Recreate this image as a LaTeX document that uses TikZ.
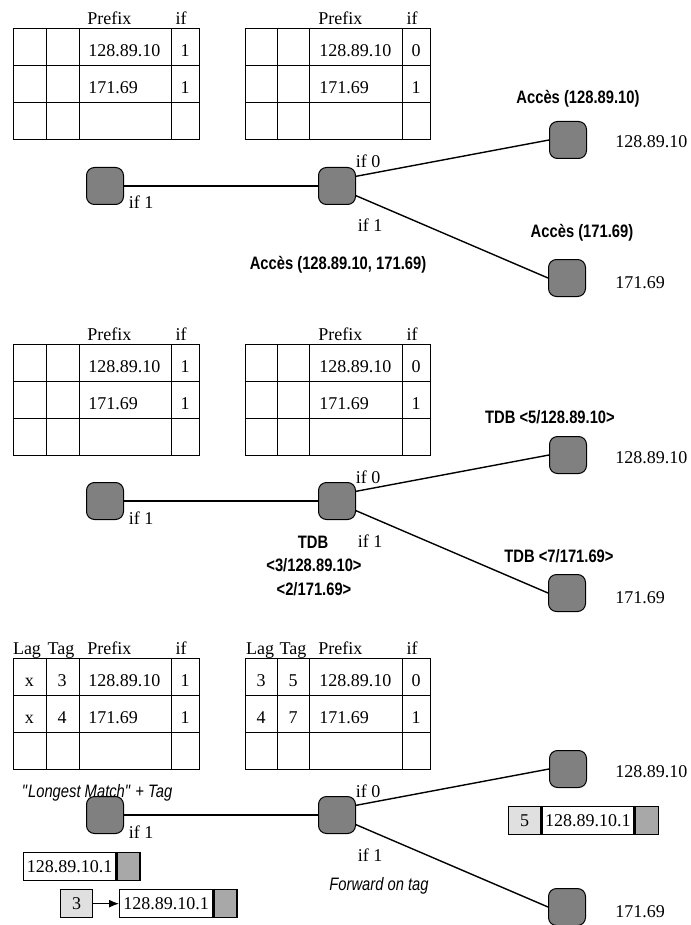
\documentclass[tikz,border=0pt]{standalone}
\usepackage{fontspec}
\setmainfont{Liberation Serif}
\setsansfont{Liberation Sans}
\newfontfamily\narrowsf[FakeStretch=0.82]{Liberation Sans}
\usepackage{tikz}
\usetikzlibrary{arrows.meta, positioning, calc}
\definecolor{routergray}{gray}{0.5}
\definecolor{pktgray}{gray}{0.66}
\definecolor{taggray}{gray}{0.88}

\begin{document}
\begin{tikzpicture}[x=0.5pt, y=-0.5pt,
		router/.style={draw, fill=routergray, rounded corners=4pt, minimum size=18.5pt, inner sep=0pt, line width=0.5pt},
		tbl/.style={line width=0.5pt},
		cell/.style={font=\fontsize{9}{10}\selectfont, inner sep=0pt, anchor=base},
		link/.style={line width=0.7pt},
		lbl/.style={font=\narrowsf\bfseries\fontsize{9}{10}\selectfont, inner sep=0pt},
		note/.style={font=\narrowsf\itshape\fontsize{9}{10}\selectfont, inner sep=0pt},
		pkt/.style={draw, fill=white, line width=0.65pt, minimum height=14pt, inner sep=0pt, font=\fontsize{9}{10}\selectfont},
		pktend/.style={draw, fill=pktgray, line width=0.65pt, minimum height=14pt, minimum width=11.5pt, inner sep=0pt},
		tagbox/.style={draw, fill=taggray, line width=0.65pt, minimum height=14pt, minimum width=16pt, inner sep=0pt, font=\fontsize{9}{10}\selectfont}]
	\useasboundingbox (0,0) rectangle (690,925);
	% the three steps share the same tables, routers and links
	\foreach \p/\dy in {1/0, 2/315, 3/629} {
		\begin{scope}[shift={(0,\dy)}]
			\draw[tbl] (13,29) rectangle (199,140);
			\draw[tbl] (13,66) -- (199,66) (13,103) -- (199,103);
			\draw[tbl] (46,29) -- (46,140) (79,29) -- (79,140) (171,29) -- (171,140);
			\draw[tbl] (245,29) rectangle (430,140);
			\draw[tbl] (245,66) -- (430,66) (245,103) -- (430,103);
			\draw[tbl] (277,29) -- (277,140) (309,29) -- (309,140) (402,29) -- (402,140);
			\node[cell, anchor=base west] (hpfxL\p) at (87,25) {Prefix};
			\node[cell] (hifL\p) at (181,25) {if};
			\node[cell, anchor=base west] (hpfxR\p) at (318,25) {Prefix};
			\node[cell] (hifR\p) at (412,25) {if};
			\node[cell, anchor=base west] (pfxLa\p) at (88,57) {128.89.10};
			\node[cell] (ifLa\p) at (185,57) {1};
			\node[cell, anchor=base west] (pfxLb\p) at (88,94) {171.69};
			\node[cell] (ifLb\p) at (185,94) {1};
			\node[cell, anchor=base west] (pfxRa\p) at (319,57) {128.89.10};
			\node[cell] (ifRa\p) at (416,57) {0};
			\node[cell, anchor=base west] (pfxRb\p) at (319,94) {171.69};
			\node[cell] (ifRb\p) at (416,94) {1};
			\node[router] (src\p) at (105,186) {};
			\node[router] (core\p) at (337,186) {};
			\node[router] (top\p) at (568,140) {};
			\node[router] (bot\p) at (567,278) {};
			\draw[link] (src\p) -- (core\p);
			\draw[link] (core\p.27) -- (top\p.west);
			\draw[link] (core\p.-27) -- (bot\p.west);
			\node[cell] (ifsrc\p) at (141,209) {if 1};
			\node[cell] (ifzero\p) at (368,168) {if 0};
			\node[cell] (ifone\p) at (370,232) {if 1};
			\node[cell, anchor=base west] (dsttop\p) at (615,148) {128.89.10};
			\node[cell, anchor=base west] (dstbot\p) at (615,288) {171.69};
		\end{scope}
	}
	% step 1: access
	\node[lbl] (acctop) at (578,99) {Accès (128.89.10)};
	\node[lbl] (accbot) at (582,233) {Accès (171.69)};
	\node[lbl] (acccore) at (338,265) {Accès (128.89.10, 171.69)};
	% step 2: tag distribution
	\node[lbl] (tdbcore) at (313,542) {TDB};
	\node[lbl] (tdbcorea) at (314,565) {<3/128.89.10>};
	\node[lbl] (tdbcoreb) at (314,589) {<2/171.69>};
	\node[lbl] (tdbtop) at (550,417) {TDB <5/128.89.10>};
	\node[lbl] (tdbbot) at (559,556) {TDB <7/171.69>};
	% step 3: forwarding
	\node[cell] (hlagL) at (27,654) {Lag};
	\node[cell] (htagL) at (61,654) {Tag};
	\node[cell] (hlagR) at (260,654) {Lag};
	\node[cell] (htagR) at (293,654) {Tag};
	\node[cell] (lagLa) at (29.5,686) {x};
	\node[cell] (tagLa) at (62,686) {3};
	\node[cell] (lagLb) at (29.5,723) {x};
	\node[cell] (tagLb) at (62,723) {4};
	\node[cell] (lagRa) at (261,686) {3};
	\node[cell] (tagRa) at (293,686) {5};
	\node[cell] (lagRb) at (261,723) {4};
	\node[cell] (tagRb) at (293,723) {7};
	\node[note] (lmatch) at (97,793) {\textquotedbl Longest Match\textquotedbl{} + Tag};
	\node[note] (fwdtag) at (379,886) {Forward on tag};
	\node[pkt, minimum width=46pt, anchor=north west] (pktin) at (23,852) {128.89.10.1};
	\node[pktend, anchor=west] (pktinend) at (pktin.east) {};
	\node[tagbox, anchor=north west] (tagthree) at (60,889) {3};
	\node[pkt, minimum width=46.5pt, anchor=north west] (pktsrc) at (119,889) {128.89.10.1};
	\node[pktend, anchor=west] (pktsrcend) at (pktsrc.east) {};
	\draw[-{Latex[length=5pt, width=4pt]}, line width=0.6pt] (tagthree) -- (pktsrc);
	\node[tagbox, anchor=north west] (tagfive) at (508,806) {5};
	\node[pkt, minimum width=46pt, anchor=west] (pktout) at (tagfive.east) {128.89.10.1};
	\node[pktend, anchor=west] (pktoutend) at (pktout.east) {};
\end{tikzpicture}
\end{document}
